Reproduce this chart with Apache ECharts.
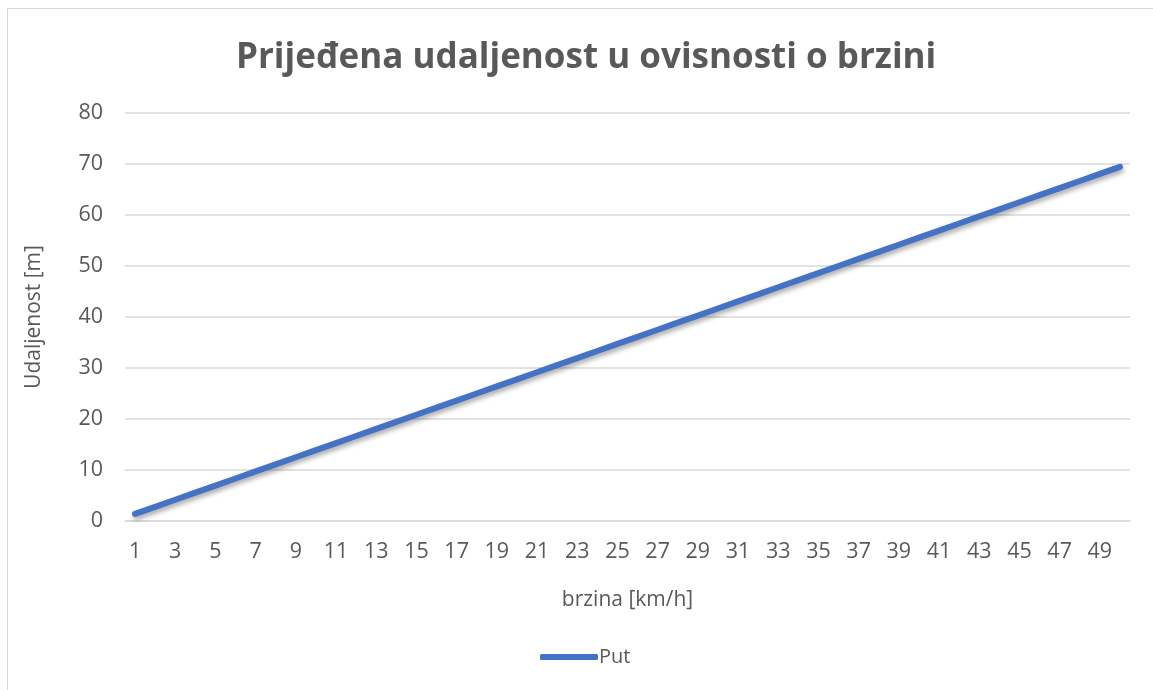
<!DOCTYPE html>
<html>
<head>
<meta charset="utf-8">
<script src="https://cdn.jsdelivr.net/npm/echarts@6/dist/echarts.min.js"></script>
<style>
  html, body { margin: 0; padding: 0; background: #fff; overflow: hidden; }
  #frame { position: absolute; left: 7px; top: 8px; width: 1160px; height: 700px; border: 1px solid #d9d9d9; box-sizing: border-box; }
  #chart { position: absolute; left: 0; top: 0; width: 1153px; height: 690px; }
</style>
</head>
<body>
<div id="frame"></div>
<div id="chart"></div>
<script>
  // brzina [km/h]
  const speeds = []
  for (let i = 1; i <= 50; i++) speeds.push(String(i))
  // prijeđeni put [m]
  const put = [1.39, 2.78, 4.17, 5.56, 6.94, 8.33, 9.72, 11.11, 12.5, 13.89,
    15.28, 16.67, 18.06, 19.44, 20.83, 22.22, 23.61, 25.0, 26.39, 27.78,
    29.17, 30.56, 31.94, 33.33, 34.72, 36.11, 37.5, 38.89, 40.28, 41.67,
    43.06, 44.44, 45.83, 47.22, 48.61, 50.0, 51.39, 52.78, 54.17, 55.56,
    56.94, 58.33, 59.72, 61.11, 62.5, 63.89, 65.28, 66.67, 68.06, 69.44]

  const font = '"Open Sans", "Liberation Sans", sans-serif'
  const grey = '#595959'

  const chart = echarts.init(document.getElementById('chart'))
  chart.setOption({
    animation: false,
    textStyle: { fontFamily: font },
    title: {
      text: 'Prijeđena udaljenost u ovisnosti o brzini',
      left: 231,
      top: 36,
      textStyle: { fontFamily: font, fontSize: 35, fontWeight: 'bold', color: grey }
    },
    legend: {
      data: ['Put'],
      bottom: 18,
      left: 535,
      itemWidth: 58,
      itemHeight: 6,
      itemGap: 2,
      icon: 'roundRect',
      textStyle: { fontFamily: font, fontSize: 20, color: grey, padding: [0, 0, 0, -4] }
    },
    grid: { left: 125, right: 23, top: 113, bottom: 169 },
    xAxis: {
      type: 'category',
      data: speeds,
      boundaryGap: true,
      name: 'brzina [km/h]',
      nameLocation: 'middle',
      nameGap: 69,
      nameTextStyle: { fontFamily: font, fontSize: 21, color: grey },
      axisLine: { lineStyle: { color: '#d9d9d9', width: 1.5 } },
      axisTick: { show: false },
      axisLabel: { interval: 1, fontSize: 21.5, color: grey, margin: 20 }
    },
    yAxis: {
      type: 'value',
      min: 0,
      max: 80,
      interval: 10,
      name: 'Udaljenost [m]',
      nameLocation: 'middle',
      nameGap: 80,
      nameTextStyle: { fontFamily: font, fontSize: 21, color: grey },
      axisLine: { show: false },
      axisTick: { show: false },
      axisLabel: { fontSize: 21.5, color: grey, margin: 22 },
      splitLine: { lineStyle: { color: '#d9d9d9', width: 1.5 } }
    },
    series: [{
      name: 'Put',
      type: 'line',
      data: put,
      symbol: 'none',
      lineStyle: {
        color: '#4472C4',
        width: 6,
        cap: 'round',
        shadowColor: 'rgba(0,0,0,0.35)',
        shadowBlur: 5,
        shadowOffsetY: 3,
        shadowOffsetX: 1
      },
      itemStyle: { color: '#4472C4' }
    }]
  })
</script>
</body>
</html>
